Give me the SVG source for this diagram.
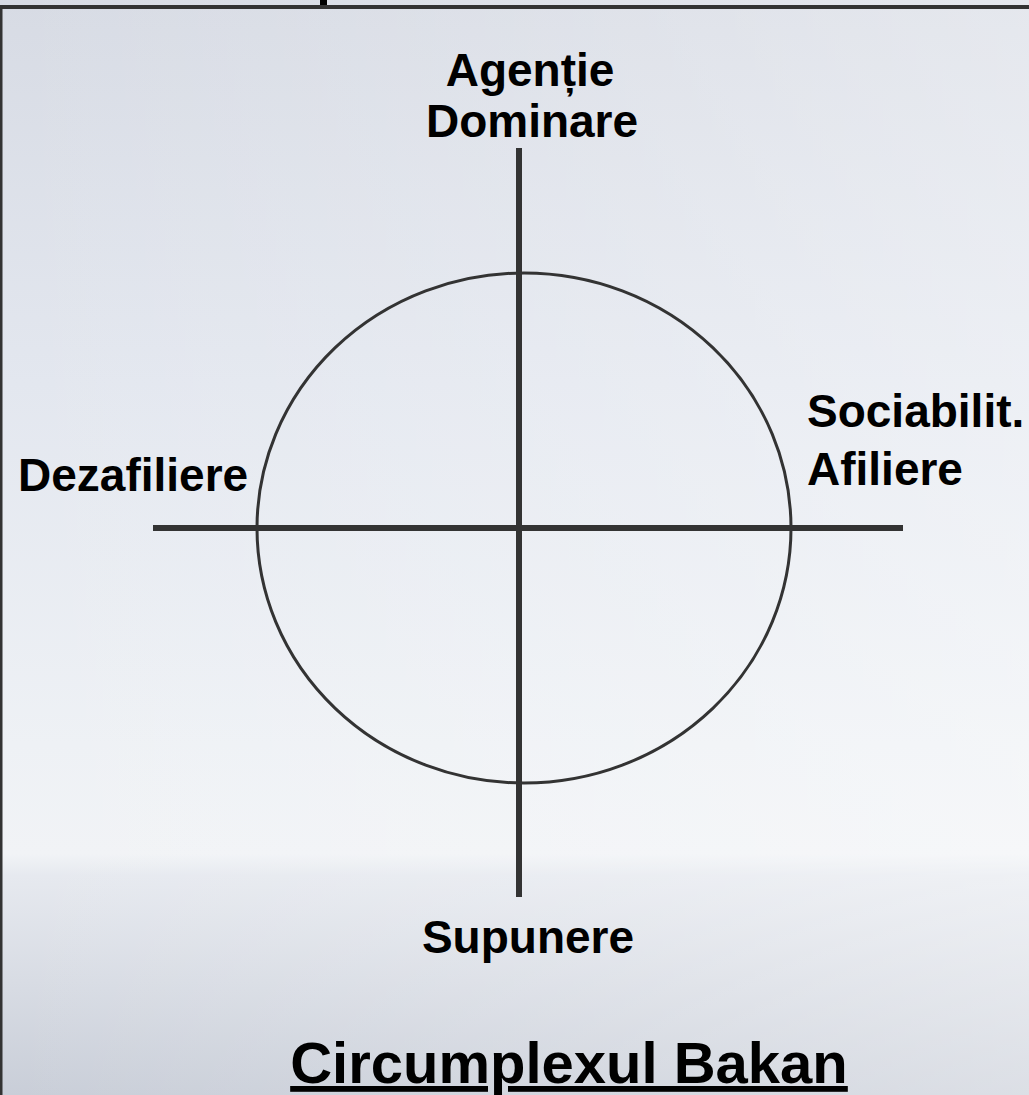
<svg xmlns="http://www.w3.org/2000/svg" width="1029" height="1095" viewBox="0 0 1029 1095">
  <defs>
    <linearGradient id="bgV" x1="0" y1="0" x2="0" y2="1">
      <stop offset="0" stop-color="#d7dbe4"/>
      <stop offset="0.35" stop-color="#e3e7ef"/>
      <stop offset="0.68" stop-color="#eef1f5"/>
      <stop offset="0.78" stop-color="#f1f3f6"/>
      <stop offset="0.80" stop-color="#e6e9ef"/>
      <stop offset="1" stop-color="#c9ced8"/>
    </linearGradient>
    <linearGradient id="bgH" x1="0" y1="0" x2="1" y2="0">
      <stop offset="0" stop-color="#ffffff" stop-opacity="0"/>
      <stop offset="0.6" stop-color="#ffffff" stop-opacity="0.2"/>
      <stop offset="1" stop-color="#ffffff" stop-opacity="0.35"/>
    </linearGradient>
    <style>
      .lbl { font-family: "Liberation Sans", Arial, sans-serif; font-weight: bold; font-size: 46px; fill: #000; }
      .title { font-family: "Liberation Sans", Arial, sans-serif; font-weight: bold; font-size: 58px; fill: #000; text-decoration: underline; }
      .axis { stroke: #333333; stroke-width: 6; fill: none; }
      .ring { stroke: #333333; stroke-width: 3; fill: none; }
      .frame { stroke: #333333; fill: none; }
    </style>
  </defs>

  <!-- background -->
  <rect x="0" y="0" width="1029" height="1095" fill="url(#bgV)"/>
  <rect x="0" y="0" width="1029" height="1095" fill="url(#bgH)"/>

  <!-- frame -->
  <line class="frame" x1="0" y1="7" x2="1029" y2="7" stroke-width="4"/>
  <line class="frame" x1="1" y1="5" x2="1" y2="1095" stroke-width="3"/>
  <rect x="320" y="0" width="7" height="5" fill="#000"/>

  <!-- connectors / axes -->
  <g id="connectors">
    <ellipse class="ring" cx="524" cy="528" rx="267" ry="255"/>
    <line class="axis" x1="519" y1="148" x2="519" y2="897"/>
    <line class="axis" x1="153" y1="528" x2="903" y2="528"/>
  </g>

  <g id="node-agentie">
    <text class="lbl" x="530" y="86" text-anchor="middle">Agenție</text>
    <text class="lbl" x="532" y="137" text-anchor="middle">Dominare</text>
  </g>
  <g id="node-dezafiliere">
    <text class="lbl" x="18" y="491">Dezafiliere</text>
  </g>
  <g id="node-sociabilit">
    <text class="lbl" x="807" y="427">Sociabilit.</text>
    <text class="lbl" x="807" y="485">Afiliere</text>
  </g>
  <g id="node-supunere">
    <text class="lbl" x="528" y="953" text-anchor="middle">Supunere</text>
  </g>
  <g id="title">
    <text class="title" x="569" y="1083" text-anchor="middle">Circumplexul Bakan</text>
  </g>
</svg>
